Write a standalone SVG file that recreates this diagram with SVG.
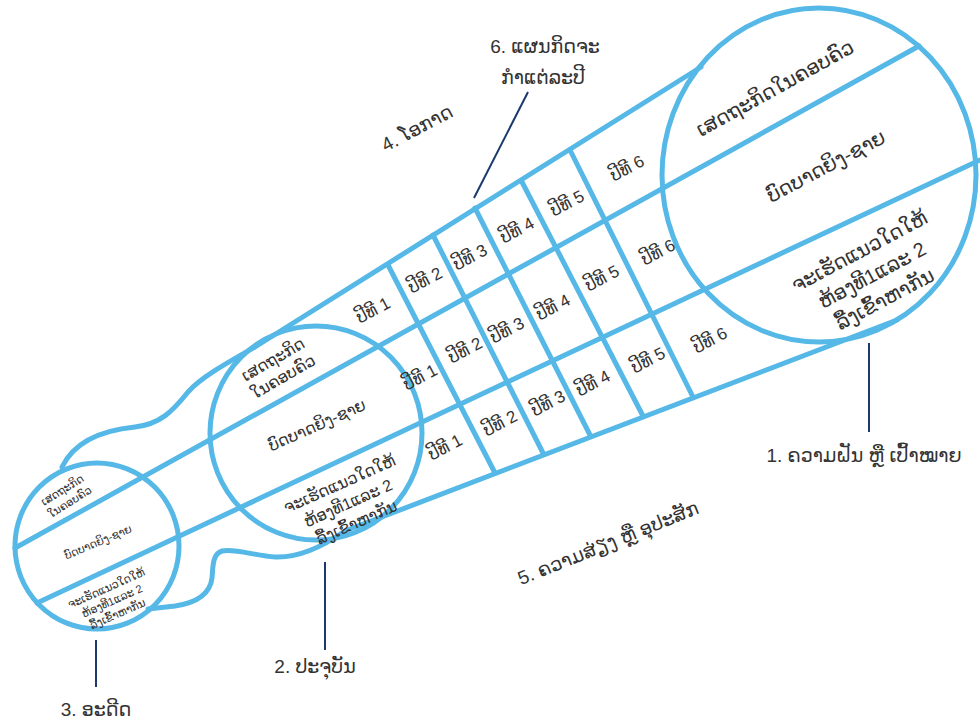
<svg xmlns="http://www.w3.org/2000/svg" width="980" height="720" viewBox="0 0 980 720">
<style>
.b{fill:none;stroke:#55b8e6;stroke-width:5;stroke-linejoin:round;stroke-linecap:round}
.t{font-family:"Liberation Sans","DejaVu Sans",sans-serif;fill:#333;text-anchor:middle}
.yr{font-size:17px}
.lb{font-size:19px}
.lead{stroke:#1b3a6b;stroke-width:2;fill:none}
</style>
<rect width="980" height="720" fill="#fff"/>
<g id="connectors">
<path class="b" d="M701,67 L255,347 C225,364 200,378 188,392 C172,412 160,424 135,427 C105,430 75,440 62,467"/>
<path class="b" d="M897,320 L345,531 C325,545 300,558 275,557 C255,556 235,548 222,551 C212,554 213,568 212,578 C210,595 195,603 175,606 L148,609"/>
<line class="b" x1="15" y1="548" x2="919" y2="46"/>
<line class="b" x1="37" y1="603" x2="980" y2="160"/>
<line class="b" x1="388" y1="265" x2="495" y2="473"/>
<line class="b" x1="433" y1="235" x2="543" y2="453"/>
<line class="b" x1="475" y1="208" x2="590" y2="435"/>
<line class="b" x1="522" y1="182" x2="643" y2="416"/>
<line class="b" x1="570" y1="150" x2="693" y2="397"/>
<line class="lead" x1="528" y1="92" x2="474" y2="198"/>
<line class="lead" x1="869" y1="343" x2="869" y2="432"/>
<line class="lead" x1="325" y1="562" x2="325" y2="650"/>
<line class="lead" x1="96" y1="640" x2="96" y2="687"/>
</g>
<g id="goal">
<ellipse class="b" cx="819" cy="175" rx="157" ry="167"/>
<text class="t" font-size="20" transform="translate(775,88) rotate(-29)" dy=".35em">ເສດຖະກິດໃນຄອບຄົວ</text>
<text class="t" font-size="20" transform="translate(826,166) rotate(-28)" dy=".35em">ບົດບາດຍິງ-ຊາຍ</text>
<g transform="translate(872,275) rotate(-28)" class="t" font-size="20">
<text y="-27" dy=".35em">ຈະເຮັດແນວໃດໃຫ້</text>
<text dy=".35em">ຫ້ອງທີ1ແລະ 2</text>
<text y="27" dy=".35em">ລື້ງເຂົ້າຫາກັນ</text>
</g>
</g>
<g id="present">
<ellipse class="b" cx="316" cy="433" rx="106" ry="107"/>
<g transform="translate(278,368) rotate(-30)" class="t" font-size="16">
<text y="-10" dy=".35em">ເສດຖະກິດ</text>
<text y="10" dy=".35em">ໃນຄອບຄົວ</text>
</g>
<text class="t" font-size="16" transform="translate(317,425) rotate(-24)" dy=".35em">ບົດບາດຍິງ-ຊາຍ</text>
<g transform="translate(348,503) rotate(-24)" class="t" font-size="16">
<text y="-21" dy=".35em">ຈະເຮັດແນວໃດໃຫ້</text>
<text dy=".35em">ຫ້ອງທີ1ແລະ 2</text>
<text y="21" dy=".35em">ລື້ງເຂົ້າຫາກັນ</text>
</g>
</g>
<g id="past">
<ellipse class="b" cx="97" cy="546" rx="82" ry="83"/>
<g transform="translate(66,496) rotate(-32)" class="t" font-size="11">
<text y="-7" dy=".35em">ເສດຖະກິດ</text>
<text y="7" dy=".35em">ໃນຄອບຄົວ</text>
</g>
<text class="t" font-size="11" transform="translate(98,542) rotate(-23)" dy=".35em">ບົດບາດຍິງ-ຊາຍ</text>
<g transform="translate(112,601) rotate(-24)" class="t" font-size="11">
<text y="-14" dy=".35em">ຈະເຮັດແນວໃດໃຫ້</text>
<text dy=".35em">ຫ້ອງທີ1ແລະ 2</text>
<text y="14" dy=".35em">ລື້ງເຂົ້າຫາກັນ</text>
</g>
</g>
<g id="years" class="t yr">
<text transform="translate(373,310) rotate(-28)" dy=".35em">ປີທີ 1</text>
<text transform="translate(425,280) rotate(-28)" dy=".35em">ປີທີ 2</text>
<text transform="translate(470,257) rotate(-28)" dy=".35em">ປີທີ 3</text>
<text transform="translate(517,230) rotate(-28)" dy=".35em">ປີທີ 4</text>
<text transform="translate(567,203) rotate(-28)" dy=".35em">ປີທີ 5</text>
<text transform="translate(627,168) rotate(-28)" dy=".35em">ປີທີ 6</text>
<text transform="translate(420,377) rotate(-28)" dy=".35em">ປີທີ 1</text>
<text transform="translate(465,350) rotate(-28)" dy=".35em">ປີທີ 2</text>
<text transform="translate(507,330) rotate(-28)" dy=".35em">ປີທີ 3</text>
<text transform="translate(553,307) rotate(-28)" dy=".35em">ປີທີ 4</text>
<text transform="translate(602,278) rotate(-28)" dy=".35em">ປີທີ 5</text>
<text transform="translate(658,252) rotate(-28)" dy=".35em">ປີທີ 6</text>
<text transform="translate(445,447) rotate(-28)" dy=".35em">ປີທີ 1</text>
<text transform="translate(500,423) rotate(-28)" dy=".35em">ປີທີ 2</text>
<text transform="translate(548,403) rotate(-28)" dy=".35em">ປີທີ 3</text>
<text transform="translate(593,383) rotate(-28)" dy=".35em">ປີທີ 4</text>
<text transform="translate(648,360) rotate(-28)" dy=".35em">ປີທີ 5</text>
<text transform="translate(710,340) rotate(-28)" dy=".35em">ປີທີ 6</text>
</g>
<g id="label-plan" class="t lb">
<text x="545" y="53">6. ແຜນກິດຈະ</text>
<text x="543" y="84">ກຳແຕ່ລະປີ</text>
</g>
<g id="label-opportunity" class="t lb">
<text transform="translate(417,128) rotate(-28)" dy=".35em">4. ໂອກາດ</text>
</g>
<g id="label-risk" class="t lb">
<text transform="translate(608,543) rotate(-22)" dy=".35em">5. ຄວາມສ່ຽງ ຫຼື ອຸປະສັກ</text>
</g>
<g id="label-dream" class="t lb">
<text x="864" y="462">1. ຄວາມຝັນ ຫຼື ເປົ້າໝາຍ</text>
</g>
<g id="label-present" class="t lb">
<text x="315" y="673">2. ປະຈຸບັນ</text>
</g>
<g id="label-past" class="t lb">
<text x="96" y="716">3. ອະດີດ</text>
</g>
</svg>
